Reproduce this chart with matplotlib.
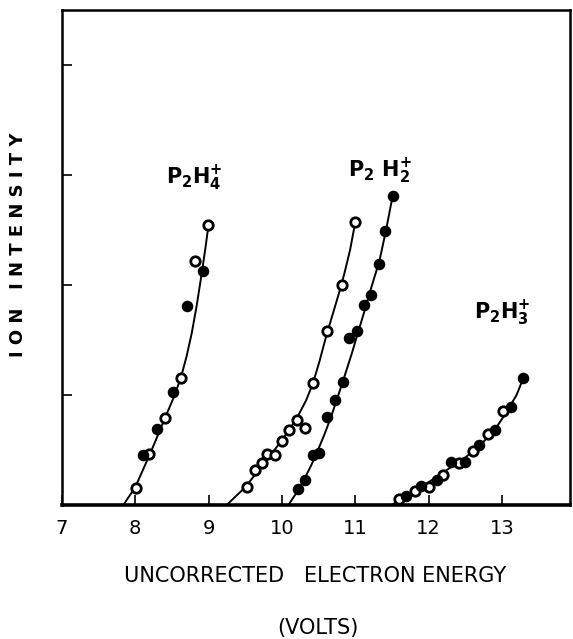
import numpy as np
import matplotlib
matplotlib.use('Agg')
import matplotlib.pyplot as plt

# P2H4+ : measured points and fitted curve
h4_open_x = [8.01, 8.19, 8.41, 8.62, 8.82, 8.99]
h4_open_y = [0.15, 0.46, 0.79, 1.15, 2.22, 2.55]
h4_fill_x = [8.10, 8.30, 8.52, 8.71, 8.93]
h4_fill_y = [0.45, 0.69, 1.03, 1.81, 2.13]
h4_curve_x = [7.84, 8.0, 8.2, 8.4, 8.52, 8.62, 8.70, 8.77, 8.84, 8.91, 8.96, 9.0]
h4_curve_y = [0.0, 0.16, 0.46, 0.78, 0.97, 1.15, 1.35, 1.56, 1.82, 2.12, 2.35, 2.55]

# P2H2+ : open circles (left curve), filled (right curve)
h2_open_x = [9.52, 9.63, 9.73, 9.80, 9.91, 10.00, 10.10, 10.21, 10.31, 10.42, 10.61, 10.82, 11.00]
h2_open_y = [0.16, 0.32, 0.38, 0.46, 0.45, 0.58, 0.68, 0.77, 0.70, 1.11, 1.58, 2.00, 2.57]
h2_open_curve_x = [9.25, 9.5, 9.7, 9.9, 10.1, 10.22, 10.33, 10.42, 10.51, 10.61, 10.70, 10.78, 10.85, 10.93, 11.0]
h2_open_curve_y = [0.0, 0.16, 0.33, 0.50, 0.68, 0.81, 0.95, 1.10, 1.30, 1.55, 1.75, 1.93, 2.10, 2.32, 2.57]
h2_fill_x = [10.22, 10.32, 10.42, 10.51, 10.61, 10.73, 10.83, 10.92, 11.02, 11.12, 11.22, 11.33, 11.40, 11.51]
h2_fill_y = [0.14, 0.23, 0.45, 0.47, 0.80, 0.95, 1.12, 1.52, 1.58, 1.82, 1.91, 2.19, 2.49, 2.81]
h2_fill_curve_x = [10.09, 10.2, 10.31, 10.40, 10.48, 10.58, 10.67, 10.75, 10.83, 10.95, 11.03, 11.12,
                   11.22, 11.33, 11.42, 11.51]
h2_fill_curve_y = [0.0, 0.11, 0.24, 0.36, 0.48, 0.64, 0.80, 0.96, 1.12, 1.37, 1.55, 1.75,
                   1.98, 2.22, 2.50, 2.81]

# P2H3+
h3_open_x = [11.59, 11.81, 12.01, 12.20, 12.41, 12.60, 12.81, 13.02]
h3_open_y = [0.05, 0.13, 0.16, 0.27, 0.38, 0.49, 0.64, 0.85]
h3_fill_x = [11.69, 11.90, 12.11, 12.31, 12.50, 12.69, 12.90, 13.12, 13.29]
h3_fill_y = [0.08, 0.17, 0.23, 0.39, 0.39, 0.54, 0.68, 0.89, 1.15]
h3_curve_x = [11.5, 11.7, 11.9, 12.1, 12.3, 12.5, 12.7, 12.9, 13.05, 13.2, 13.29]
h3_curve_y = [0.0, 0.08, 0.16, 0.25, 0.34, 0.43, 0.54, 0.68, 0.83, 1.0, 1.15]

labels = [r'P$_\mathbf{2}$H$_\mathbf{4}^\mathbf{+}$',
          r'P$_\mathbf{2}$ H$_\mathbf{2}^\mathbf{+}$',
          r'P$_\mathbf{2}$H$_\mathbf{3}^\mathbf{+}$']
label_x = [8.80, 11.34, 13.0]
label_y = [2.97, 3.03, 1.74]

xticks = [7, 8, 9, 10, 11, 12, 13]
yticks = [1, 2, 3, 4]

fig = plt.figure(figsize=(5.73, 6.39), dpi=100)
ax = fig.add_axes([0.108, 0.21, 0.887, 0.774])

lw = 1.4
for cx, cy in [(h4_curve_x, h4_curve_y), (h2_open_curve_x, h2_open_curve_y),
               (h2_fill_curve_x, h2_fill_curve_y), (h3_curve_x, h3_curve_y)]:
    ax.plot(cx, cy, color='black', lw=lw, zorder=2, solid_joinstyle='round')

ms = 6.8
for ox, oy in [(h4_open_x, h4_open_y), (h2_open_x, h2_open_y), (h3_open_x, h3_open_y)]:
    ax.plot(ox, oy, 'o', ms=ms, mfc='white', mec='black', mew=2.0, zorder=3)
for fx, fy in [(h4_fill_x, h4_fill_y), (h2_fill_x, h2_fill_y), (h3_fill_x, h3_fill_y)]:
    ax.plot(fx, fy, 'o', ms=ms + 0.5, mfc='black', mec='black', zorder=3)

for t, x, y in zip(labels, label_x, label_y):
    ax.text(x, y, t, fontsize=15, fontweight='bold', ha='center', va='center')

ax.set_xlim(7, 13.93)
ax.set_ylim(0, 4.5)
ax.set_xticks(xticks)
ax.set_xticklabels([str(v) for v in xticks], fontsize=14)
ax.set_yticks(yticks)
ax.set_yticklabels([])
ax.tick_params(direction='in', length=7, width=1.2, pad=10)
for s in ['left', 'top', 'right']:
    ax.spines[s].set_linewidth(1.8)
ax.spines['bottom'].set_linewidth(2.6)

fig.text(0.032, 0.617, 'I O N   I N T E N S I T Y', rotation=90, fontsize=13,
         fontweight='bold', ha='center', va='center')
fig.text(0.55, 0.098, 'UNCORRECTED   ELECTRON ENERGY', fontsize=15,
         ha='center', va='center')
fig.text(0.555, 0.017, '(VOLTS)', fontsize=15, ha='center', va='center')

fig.savefig('out.png', dpi=100)
